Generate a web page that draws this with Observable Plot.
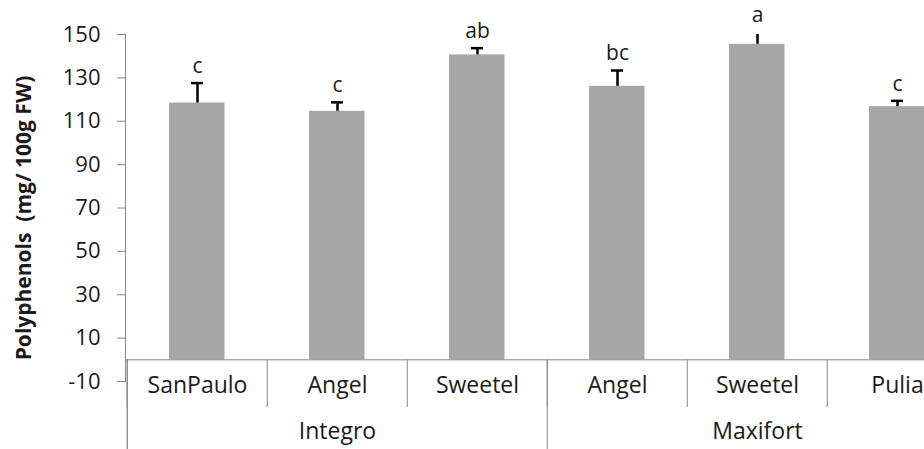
<!DOCTYPE html>
<html>
<head>
<meta charset="utf-8">
<script src="https://cdn.jsdelivr.net/npm/d3@7"></script>
<script src="https://cdn.jsdelivr.net/npm/@observablehq/plot@0.6"></script>
<style>
  html, body { margin: 0; padding: 0; background: #fff; overflow: hidden; }
  #chart { width: 924px; height: 449px; }
</style>
</head>
<body>
<div id="chart"></div>
<script>
// ---- data ----
const groups    = ["Integro", "Integro", "Integro", "Maxifort", "Maxifort", "Maxifort"];
const cultivars = ["SanPaulo", "Angel", "Sweetel", "Angel", "Sweetel", "Pulia"];
const means     = [118.4, 114.6, 140.6, 126.1, 145.5, 116.7];
const errors    = [9.2, 4.1, 3.1, 7.3, 5.5, 2.7];
const letters   = ["c", "c", "ab", "bc", "a", "c"];
const yTicks    = [-10, 10, 30, 50, 70, 90, 110, 130, 150];
const yTitle    = "Polyphenols  (mg/ 100g FW)";

// ---- table ----
const data = cultivars.map((c, i) => ({
  key: groups[i] + "|" + c,
  group: groups[i],
  cultivar: c,
  mean: means[i],
  err: errors[i],
  letter: letters[i]
}));
const keys = data.map(d => d.key);
const groupNames = [...new Set(groups)];
const groupStarts = groupNames.map(g => data.find(d => d.group === g).key);
const groupMiddles = groupNames.map(g => {
  const members = data.filter(d => d.group === g);
  return {key: members[Math.floor(members.length / 2)].key, name: g};
});

// ---- layout ----
const left = 125;
const step = 140.5;
const axisGray = "#868686";
const textColor = "#1a1a1a";
const font = "'Open Sans', sans-serif";

const chart = Plot.plot({
  width: 924,
  height: 449,
  marginLeft: left,
  marginRight: 0,
  marginTop: 34,
  marginBottom: 68,
  style: {fontFamily: font, background: "#fff", overflow: "hidden"},
  x: {type: "band", domain: keys, range: [left, left + step * keys.length], padding: 0, axis: null},
  y: {domain: [-10, 150], axis: null},
  marks: [
    // bars
    Plot.barY(data, {x: "key", y: "mean", fill: "#a6a6a6", insetLeft: 42, insetRight: 42.5}),
    // error bars
    Plot.ruleX(data, {x: "key", y1: "mean", y2: d => d.mean + d.err, stroke: "#000", strokeWidth: 2.5, clip: true}),
    Plot.tickY(data, {x: "key", y: d => d.mean + d.err, stroke: "#000", strokeWidth: 2.5, insetLeft: 64, insetRight: 64, clip: true}),
    // letters
    Plot.text(data, {x: "key", y: d => d.mean + d.err, text: "letter", dy: -17, fontSize: 21, fill: textColor}),
    // y axis line
    Plot.frame({anchor: "left", stroke: axisGray}),
    Plot.ruleX([keys[0]], {x: d => d, dx: -step / 2, y1: -10, y2: -10, insetBottom: -68, stroke: axisGray}),
    // y axis ticks and labels
    Plot.axisY({ticks: yTicks, tickSize: 8, tickPadding: 17, fontSize: 22, tickFormat: d => String(d), stroke: axisGray, fill: textColor, label: null}),
    // horizontal axis at zero
    Plot.ruleY([0], {stroke: axisGray}),
    // category separators
    Plot.ruleX(keys, {x: d => d, dx: -step / 2, y1: 0, y2: -10, insetBottom: -26, stroke: axisGray}),
    // group separators
    Plot.ruleX(groupStarts, {x: d => d, dx: -step / 2, y1: 0, y2: -10, insetBottom: -68, stroke: axisGray}),
    // category labels
    Plot.text(data, {x: "key", text: "cultivar", frameAnchor: "bottom", dy: 11, fontSize: 23, fill: textColor}),
    // group labels
    Plot.text(groupMiddles, {x: "key", text: "name", frameAnchor: "bottom", dy: 57, fontSize: 23, fill: textColor}),
    // y title
    Plot.text([yTitle], {text: d => d, frameAnchor: "left", textAnchor: "middle", rotate: -90, dx: -101, dy: 10, fontSize: 21, fontWeight: "bold", fill: textColor})
  ]
});
document.getElementById("chart").appendChild(chart);
</script>
</body>
</html>
